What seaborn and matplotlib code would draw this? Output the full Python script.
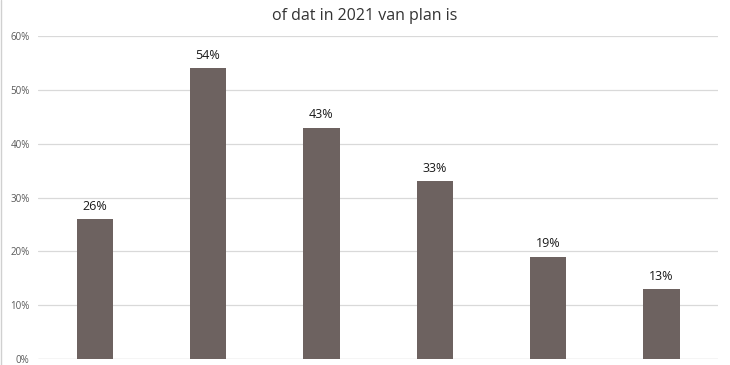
import matplotlib
matplotlib.use("Agg")
import matplotlib.pyplot as plt
import seaborn as sns
import pandas as pd
from matplotlib.ticker import PercentFormatter

categories = ["A", "B", "C", "D", "E", "F"]
values = [0.26, 0.54, 0.43, 0.33, 0.19, 0.13]
title = "of dat in 2021 van plan is"

sns.set_theme(style="white")
plt.rcParams['font.family'] = ['Open Sans', 'DejaVu Sans']

df = pd.DataFrame({"cat": categories, "val": values})
fig = plt.figure(figsize=(7.3, 3.65), dpi=100)
ax = fig.add_axes([0.052, 0.0164, 0.932, 0.885])
sns.barplot(data=df, x="cat", y="val", color="#6d6260", saturation=1, width=0.32, ax=ax, zorder=3, linewidth=0)
ax.set_ylim(0, 0.6)
ax.set_yticks([0, 0.1, 0.2, 0.3, 0.4, 0.5, 0.6])
ax.yaxis.set_major_formatter(PercentFormatter(1.0, decimals=0))
ax.grid(axis="y", color="#d9d9d9", linewidth=0.9, zorder=0)
ax.tick_params(axis="y", labelsize=7, colors="#595959", length=0, pad=6)
ax.set_xticks([])
ax.set_xlabel("")
ax.set_ylabel("")
for s in ax.spines.values():
    s.set_visible(False)
ax.axhline(0, color="#d9d9d9", linewidth=0.9, zorder=1)
for i, v in enumerate(values):
    ax.text(i, v + 0.012, f"{round(v*100)}%", ha="center", va="bottom", fontsize=9, color="#1a1a1a")
fig.text(0.5, 0.957, title, ha="center", va="center", fontsize=11.5, color="#333333")
fig.add_artist(plt.Line2D([0.001, 0.001], [0, 1], color="#d0d0d0", linewidth=1, transform=fig.transFigure))
fig.savefig("out.png", dpi=100)
